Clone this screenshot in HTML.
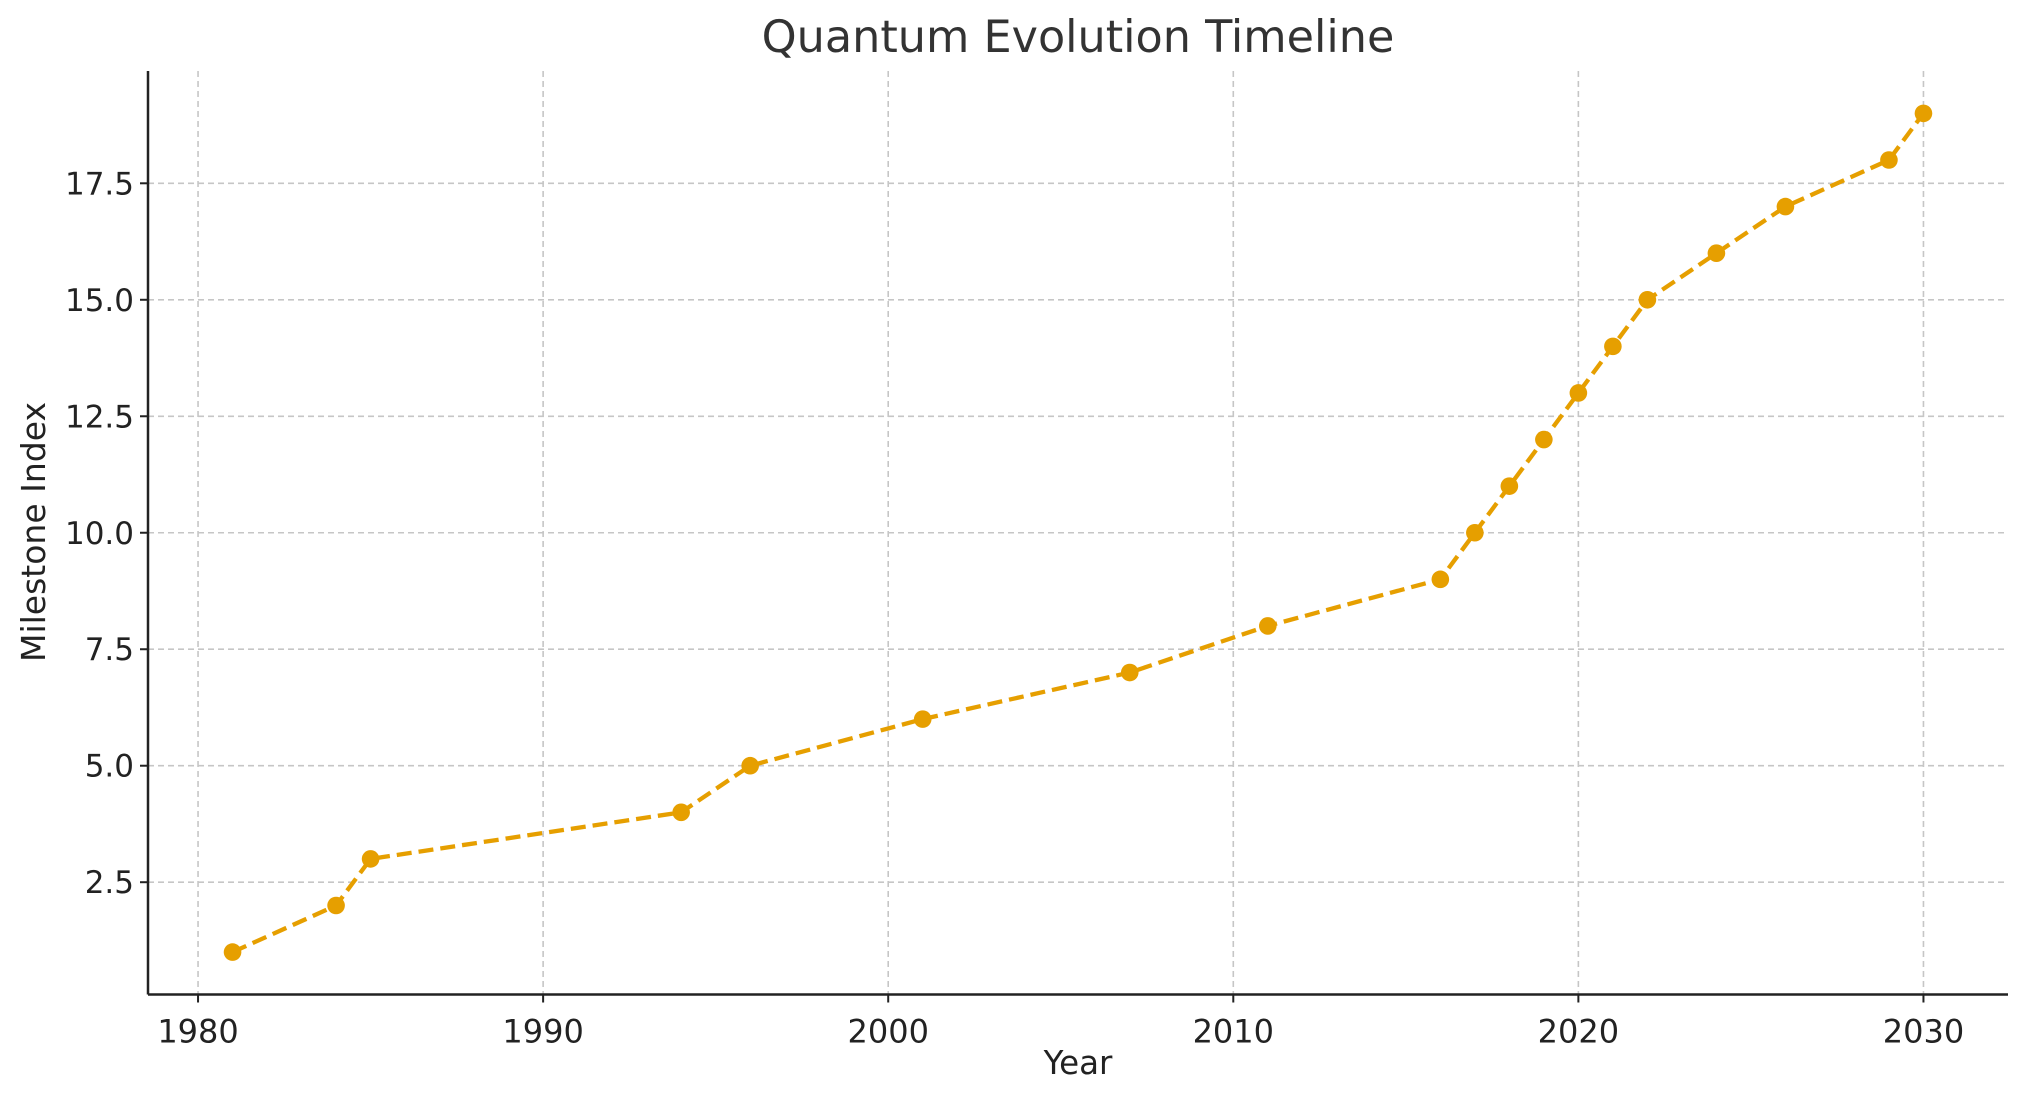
<!DOCTYPE html>
<html><head><meta charset="utf-8"><style>
html,body{margin:0;padding:0;background:#fff;}
svg{display:block;font-family:"DejaVu Sans","Liberation Sans",sans-serif;}
</style></head><body>
<svg id="c" width="2028" height="1101" viewBox="0 0 2028 1101" xmlns="http://www.w3.org/2000/svg"></svg>
<script>
const L=148,R=2008,T=71,B=994.5;
const x=v=>L+(v-1978.55)*(R-L)/53.9;
const y=v=>B-(v-0.09)*(B-T)/19.82;
let s='';
s+=`<text x="1078" y="52" font-size="44.5" text-anchor="middle" fill="#333">Quantum Evolution Timeline</text>`;
for(let yr=1980;yr<=2030;yr+=10){const px=x(yr);
 s+=`<line x1="${px}" y1="${T}" x2="${px}" y2="${B}" stroke="#c6c6c6" stroke-width="1.6" stroke-dasharray="6,4"/>`;
 s+=`<line x1="${px}" y1="${B}" x2="${px}" y2="${B+8}" stroke="#222" stroke-width="2"/>`;
 s+=`<text x="${px}" y="${B+48}" font-size="32" text-anchor="middle" fill="#222">${yr}</text>`;}
for(let v=2.5;v<=17.5;v+=2.5){const py=y(v);
 s+=`<line x1="${L}" y1="${py}" x2="${R}" y2="${py}" stroke="#c6c6c6" stroke-width="1.6" stroke-dasharray="6,4"/>`;
 s+=`<line x1="${L-8}" y1="${py}" x2="${L}" y2="${py}" stroke="#222" stroke-width="2"/>`;
 s+=`<text x="${L-14}" y="${py+11}" font-size="31" text-anchor="end" fill="#222">${v.toFixed(1)}</text>`;}
s+=`<line x1="${L}" y1="${T}" x2="${L}" y2="${B}" stroke="#222" stroke-width="2.5"/>`;
s+=`<line x1="${L}" y1="${B}" x2="${R}" y2="${B}" stroke="#222" stroke-width="2.5"/>`;
s+=`<text x="1078" y="1074" font-size="32.5" text-anchor="middle" fill="#222">Year</text>`;
s+=`<text transform="translate(45,532) rotate(-90)" font-size="33" text-anchor="middle" fill="#222">Milestone Index</text>`;
const d=[[1981,1],[1984,2],[1985,3],[1994,4],[1996,5],[2001,6],[2007,7],[2011,8],[2016,9],[2017,10],[2018,11],[2019,12],[2020,13],[2021,14],[2022,15],[2024,16],[2026,17],[2029,18],[2030,19]];
s+=`<polyline fill="none" stroke="#E69F00" stroke-width="4.3" stroke-dasharray="15,7" points="${d.map(p=>x(p[0])+','+y(p[1])).join(' ')}"/>`;
d.forEach(p=>{s+=`<circle cx="${x(p[0])}" cy="${y(p[1])}" r="8.8" fill="#E69F00"/>`;});
document.getElementById('c').innerHTML=s;
</script>
</body></html>
